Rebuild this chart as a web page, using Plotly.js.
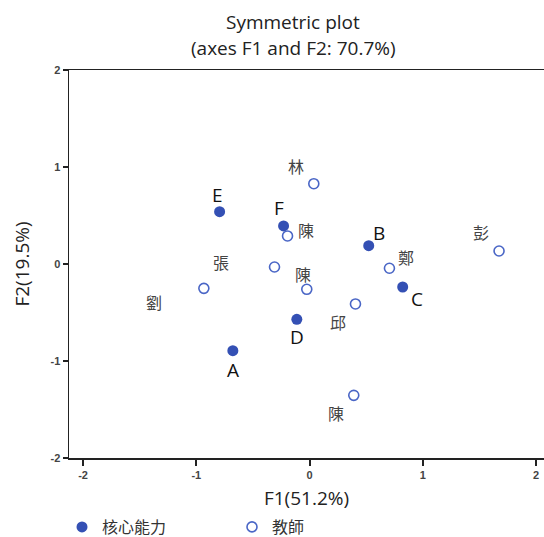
<!DOCTYPE html>
<html>
<head>
<meta charset="utf-8">
<script src="https://cdn.plot.ly/plotly-3.0.1.min.js"></script>
<style>html,body{margin:0;padding:0;background:#fff;}#chart{width:544px;height:537px;}</style>
</head>
<body>
<div id="chart"></div>
<script>
// ---- data ----
const coreLabels = ["E", "F", "B", "C", "D", "A"];
const coreF1 = [-0.794, -0.229, 0.523, 0.823, -0.112, -0.677];
const coreF2 = [0.539, 0.392, 0.189, -0.237, -0.570, -0.894];

const teacherLabels = ["林", "陳", "張", "劉", "陳", "鄭", "彭", "邱", "陳"];
const teacherF1 = [0.038, -0.194, -0.309, -0.933, -0.024, 0.706, 1.674, 0.406, 0.391];
const teacherF2 = [0.828, 0.289, -0.031, -0.251, -0.261, -0.044, 0.134, -0.412, -1.354];

const xTicks = [-2, -1, 0, 1, 2];
const yTicks = [-2, -1, 0, 1, 2];

// ---- label offsets (pixels) ----
const coreOffsets = [[-2, 17], [-5, 18], [10, 13], [14, -12], [0, -18], [0, -19]];
const teacherOffsets = [[-18, 18], [18, 6], [-54, 5], [-50, -14], [-4, 15], [17, 11], [-18, 19], [-17, -18], [-18, -18]];

const W = 544, H = 537;
const M = {l: 69, r: 0, t: 70, b: 79, autoexpand: false};
const plotH = H - M.t - M.b;
const pyToPaper = py => (H - M.b - py) / plotH;
const pxToPaper = px => (px - M.l) / (W - M.l - M.r);

const fillColor = "#3450b4";
const openColor = "#4a66c6";
const textFamily = "Open Sans, Noto Sans, sans-serif";

const traces = [
  {
    type: "scatter", mode: "markers", name: "核心能力",
    x: coreF1, y: coreF2,
    marker: {color: fillColor, size: 11, symbol: "circle"},
    hoverinfo: "skip"
  },
  {
    type: "scatter", mode: "markers", name: "教師",
    x: teacherF1, y: teacherF2,
    marker: {color: openColor, size: 10, symbol: "circle-open", line: {color: openColor, width: 1.6}},
    hoverinfo: "skip"
  }
];

const annotations = [];
coreLabels.forEach((t, i) => annotations.push({
  x: coreF1[i], y: coreF2[i], xref: "x", yref: "y", text: t, showarrow: false,
  xshift: coreOffsets[i][0], yshift: coreOffsets[i][1],
  font: {family: textFamily, size: 19, color: "#111"}
}));
teacherLabels.forEach((t, i) => annotations.push({
  x: teacherF1[i], y: teacherF2[i], xref: "x", yref: "y", text: t, showarrow: false,
  xshift: teacherOffsets[i][0], yshift: teacherOffsets[i][1],
  font: {family: "Noto Sans CJK TC, sans-serif", size: 16, color: "#444"}
}));
annotations.push({
  xref: "paper", yref: "paper", x: pxToPaper(293), y: pyToPaper(22), xanchor: "center", yanchor: "middle",
  text: "Symmetric plot",
  showarrow: false, font: {family: textFamily, size: 19, color: "#222"}
});
annotations.push({
  xref: "paper", yref: "paper", x: pxToPaper(293), y: pyToPaper(48), xanchor: "center", yanchor: "middle",
  text: "(axes F1 and F2: 70.7%)",
  showarrow: false, font: {family: textFamily, size: 19, color: "#222"}
});

const tickFont = {family: "Liberation Sans, Arial, sans-serif", size: 11, color: "#444", weight: "bold"};

const layout = {
  width: W, height: H,
  margin: M,
  paper_bgcolor: "#fff", plot_bgcolor: "#fff",
  showlegend: true,
  legend: {
    orientation: "h", x: pxToPaper(62), xanchor: "left", y: pyToPaper(527), yanchor: "middle",
    font: {family: "Noto Sans CJK TC, sans-serif", size: 16, color: "#333"},
    entrywidth: 125, entrywidthmode: "pixels", itemwidth: 30
  },
  xaxis: {
    range: [-2.124, 2.071], tickvals: xTicks, ticktext: xTicks.map(String),
    showgrid: false, zeroline: false,
    showline: true, linecolor: "#222", linewidth: 1.5, mirror: true,
    ticks: "outside", ticklen: 6, tickwidth: 2, tickcolor: "#222",
    tickfont: tickFont,
    title: {text: "F1(51.2%)", standoff: 12, font: {family: textFamily, size: 19, color: "#222"}}
  },
  yaxis: {
    range: [-2, 2], tickvals: yTicks, ticktext: yTicks.map(String),
    showgrid: false, zeroline: false,
    showline: true, linecolor: "#222", linewidth: 1.5, mirror: false,
    ticks: "outside", ticklen: 5, tickwidth: 1.5, tickcolor: "#222",
    tickfont: tickFont,
    title: {text: "F2(19.5%)", standoff: 16, font: {family: textFamily, size: 19, color: "#222"}}
  },
  annotations: annotations
};

Plotly.newPlot("chart", traces, layout, {displayModeBar: false, staticPlot: true});
</script>
</body>
</html>
